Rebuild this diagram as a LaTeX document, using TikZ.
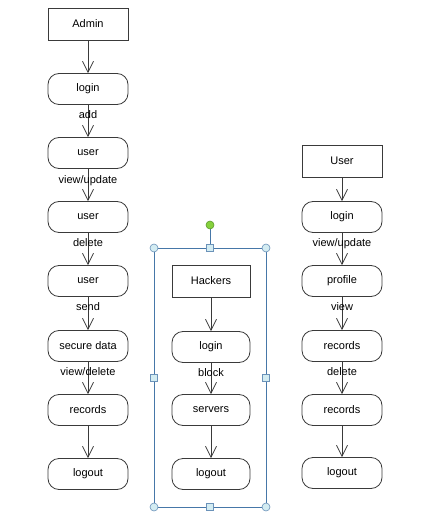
\documentclass[tikz,border=0pt]{standalone}
\usepackage{fontspec}
\setmainfont{Liberation Sans}
\usetikzlibrary{arrows.meta}
\definecolor{edgegray}{HTML}{3A3A3A}
\definecolor{selblue}{HTML}{4677A8}
\definecolor{handlefill}{HTML}{D3ECF2}
\definecolor{rotfill}{HTML}{86D13C}
\definecolor{rotdraw}{HTML}{5C9A2C}
\begin{document}
\begin{tikzpicture}[x=1pt,y=-1pt,
  font=\fontsize{11}{13}\selectfont,
  actor/.style={draw=edgegray, line width=0.8pt, minimum width=80pt,
    minimum height=32pt, inner sep=0pt},
  act/.style={draw=edgegray, line width=0.8pt, rounded corners=11pt,
    minimum width=80pt, minimum height=31pt, inner sep=0pt},
  flow/.style={draw=edgegray, line width=0.8pt,
    -{Straight Barb[length=11pt,width=11pt,line width=0.8pt]}},
  lbl/.style={inner sep=0pt, anchor=north},
  selline/.style={draw=selblue, line width=0.8pt},
  cornerh/.style={circle, draw=selblue!80, fill=handlefill, line width=0.6pt,
    minimum size=8pt, inner sep=0pt},
  edgeh/.style={rectangle, draw=selblue!80, fill=handlefill, line width=0.6pt,
    minimum size=7pt, inner sep=0pt}]
\useasboundingbox (0,0) rectangle (421,529);

% Admin flow
\node[actor] (admin) at (88,24) {Admin};
\node[act] (alogin) at (88,89) {login};
\node[act] (auser1) at (88,153) {user};
\node[act] (auser2) at (88,217) {user};
\node[act] (auser3) at (88,281) {user};
\node[act] (asec) at (88,346) {secure data};
\node[act] (arec) at (88,410) {records};
\node[act] (aout) at (88,474) {logout};

% Hackers flow
\node[actor, minimum width=78pt] (hack) at (211,281) {Hackers};
\node[act, minimum width=78pt] (hlogin) at (211,347) {login};
\node[act, minimum width=78pt] (hserv) at (211,410) {servers};
\node[act, minimum width=78pt] (hout) at (211,474) {logout};

% User flow
\node[actor] (user) at (342,161) {User};
\node[act] (ulogin) at (342,217) {login};
\node[act] (uprof) at (342,281) {profile};
\node[act] (urec1) at (342,346) {records};
\node[act] (urec2) at (342,410) {records};
\node[act] (uout) at (342,473) {logout};

% transitions
\draw[flow] (admin) -- (alogin);
\draw[flow] (alogin) -- (auser1);
\draw[flow] (auser1) -- (auser2);
\draw[flow] (auser2) -- (auser3);
\draw[flow] (auser3) -- (asec);
\draw[flow] (asec) -- (arec);
\draw[flow] (arec) -- (aout);

\draw[flow] (hack) -- (hlogin);
\draw[flow] (hlogin) -- (hserv);
\draw[flow] (hserv) -- (hout);

\draw[flow] (user) -- (ulogin);
\draw[flow] (ulogin) -- (uprof);
\draw[flow] (uprof) -- (urec1);
\draw[flow] (urec1) -- (urec2);
\draw[flow] (urec2) -- (uout);

% transition labels
\node[lbl] (ladd) at ([yshift=-5pt]alogin.south) {add};
\node[lbl] (lvu) at ([yshift=-6pt]auser1.south) {view/update};
\node[lbl] (ldel) at ([yshift=-5pt]auser2.south) {delete};
\node[lbl] (lsend) at ([yshift=-5pt]auser3.south) {send};
\node[lbl] (lvd) at ([yshift=-5pt]asec.south) {view/delete};
\node[lbl] (lblock) at ([yshift=-5pt]hlogin.south) {block};
\node[lbl] (luvu) at ([yshift=-5pt]ulogin.south) {view/update};
\node[lbl] (lview) at ([yshift=-5pt]uprof.south) {view};
\node[lbl] (ludel) at ([yshift=-5pt]urec1.south) {delete};

% selection frame around the Hackers flow
\coordinate (stl) at (154,248);
\coordinate (sbr) at (266,507);
\coordinate (srot) at (210,225);
\draw[selline] (stl) rectangle (sbr);
\node[edgeh] (htop) at (210,248) {};
\draw[selline] (srot) -- (htop);
\node[circle, draw=rotdraw, fill=rotfill, line width=0.6pt, minimum size=8pt,
  inner sep=0pt] (hrot) at (srot) {};
\node[edgeh] (hbot) at (210,507) {};
\node[edgeh] (hleft) at (154,378) {};
\node[edgeh] (hright) at (266,378) {};
\node[cornerh] (htl) at (154,248) {};
\node[cornerh] (htr) at (266,248) {};
\node[cornerh] (hbl) at (154,507) {};
\node[cornerh] (hbr) at (266,507) {};
\end{tikzpicture}
\end{document}
